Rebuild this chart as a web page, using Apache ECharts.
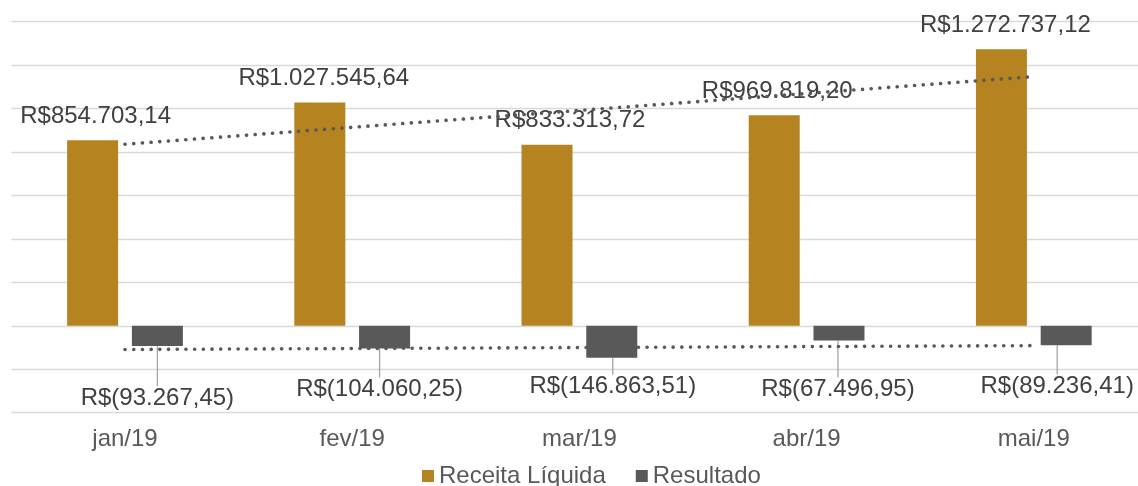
<!DOCTYPE html>
<html>
<head>
<meta charset="utf-8">
<script src="https://cdn.jsdelivr.net/npm/echarts@6/dist/echarts.min.js"></script>
<style>
  html, body { margin: 0; padding: 0; background: #fff; }
  #chart { width: 1138px; height: 486px; }
</style>
</head>
<body>
<div id="chart"></div>
<script>
const categories = ['jan/19', 'fev/19', 'mar/19', 'abr/19', 'mai/19']
const receita = [854703.14, 1027545.64, 833313.72, 969819.20, 1272737.12]
const resultado = [-93267.45, -104060.25, -146863.51, -67496.95, -89236.41]

// Excel-like linear trendline (least squares over the category index)
function linearTrend(values) {
  const n = values.length
  const mx = (n - 1) / 2
  const my = values.reduce((a, b) => a + b, 0) / n
  let sxy = 0
  let sxx = 0
  values.forEach((v, i) => {
    sxy += (i - mx) * (v - my)
    sxx += (i - mx) * (i - mx)
  })
  const slope = sxy / sxx
  return values.map((v, i) => my + slope * (i - mx))
}

// R$1.027.545,64 / R$(93.267,45)
function brl(v) {
  const s = Math.abs(v).toLocaleString('de-DE', { minimumFractionDigits: 2, maximumFractionDigits: 2 })
  return v < 0 ? `R$(${s})` : `R$${s}`
}

// manual label nudges, like the moved labels in the original sheet
const receitaLabelMove = [[3, 0], [4, 0], [23, 0], [3, 0], [4, 0]]
const resultadoLabelMove = [[0, 35], [-5, 24], [1, 12], [-1, 32], [-9, 24]]

const textFont = 'Liberation Sans, Arial, sans-serif'
const trendStyle = {
  color: '#595959',
  width: 3.6,
  type: [0.1, 8.6],
  cap: 'round'
}

const chart = echarts.init(document.getElementById('chart'))
chart.setOption({
  animation: false,
  textStyle: { fontFamily: textFont },
  grid: { left: 11.4, top: 21.7, width: 1136, height: 391, outerBoundsMode: 'none' },
  legend: {
    left: 417,
    bottom: -7,
    icon: 'rect',
    itemWidth: 12,
    itemHeight: 12,
    itemGap: 30,
    data: ['Receita Líquida', 'Resultado'],
    textStyle: { fontSize: 24, color: '#595959', fontFamily: textFont }
  },
  xAxis: {
    type: 'category',
    data: categories,
    axisLine: { show: false, onZero: false },
    axisTick: { show: false },
    axisLabel: { fontSize: 24, color: '#595959', margin: 15, fontFamily: textFont }
  },
  yAxis: {
    type: 'value',
    min: -400000,
    max: 1400000,
    interval: 200000,
    axisLabel: { show: false },
    axisLine: { show: false },
    axisTick: { show: false },
    splitLine: { lineStyle: { color: '#d9d9d9', width: 1.3 } }
  },
  series: [
    {
      name: 'Receita Líquida',
      type: 'bar',
      data: receita,
      barWidth: 51,
      barGap: '27%',
      itemStyle: { color: '#B58420' },
      label: {
        show: true,
        position: 'top',
        distance: 12,
        fontSize: 24,
        color: '#404040',
        fontFamily: textFont,
        formatter: (p) => brl(p.value)
      },
      labelLayout: (p) => ({ dx: receitaLabelMove[p.dataIndex][0], dy: receitaLabelMove[p.dataIndex][1] }),
      z: 2
    },
    {
      name: 'Resultado',
      type: 'bar',
      data: resultado,
      barWidth: 51,
      itemStyle: { color: '#595959' },
      label: {
        show: true,
        position: 'bottom',
        distance: 5,
        fontSize: 24,
        color: '#404040',
        fontFamily: textFont,
        formatter: (p) => brl(p.value)
      },
      labelLayout: (p) => ({ dx: resultadoLabelMove[p.dataIndex][0], dy: resultadoLabelMove[p.dataIndex][1] }),
      labelLine: { show: true, lineStyle: { color: '#a6a6a6', width: 1.3 } },
      z: 2
    },
    {
      name: 'Tendência Receita',
      type: 'line',
      data: linearTrend(receita),
      showSymbol: false,
      silent: true,
      lineStyle: trendStyle,
      z: 3
    },
    {
      name: 'Tendência Resultado',
      type: 'line',
      data: linearTrend(resultado),
      showSymbol: false,
      silent: true,
      lineStyle: trendStyle,
      z: 3
    }
  ]
})
</script>
</body>
</html>
